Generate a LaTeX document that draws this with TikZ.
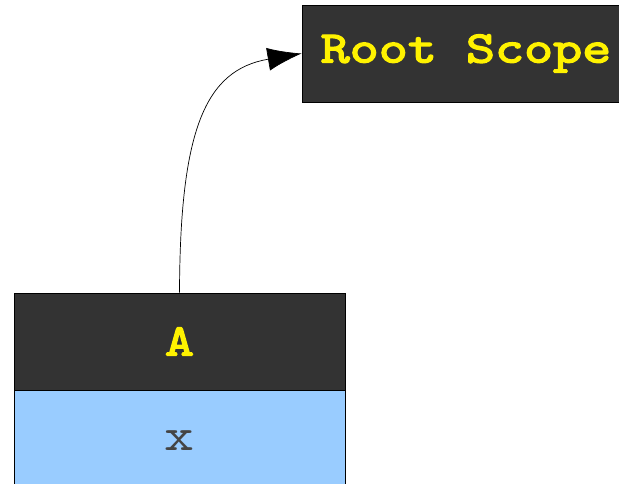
\documentclass[tikz,border=0pt]{standalone}
\usepackage{fontspec}
\newfontfamily\courfont{lmmono10-regular.otf}[FakeStretch=1.24]
\newfontfamily\courbold{lmmono10-regular.otf}[FakeStretch=1.23, FakeBold=3.2]
\usetikzlibrary{arrows.meta}
\definecolor{boxdark}{HTML}{333333}
\definecolor{boxblue}{HTML}{99CCFF}
\definecolor{txtgray}{HTML}{444444}
\begin{document}
\begin{tikzpicture}[x=1pt,y=-1pt,
  hdr/.style={draw=black, line width=0.8pt, fill=boxdark, text=yellow, inner sep=0pt,
    font=\fontsize{45}{45}\selectfont\courbold},
  fld/.style={draw=black, line width=0.8pt, fill=boxblue, text=txtgray, inner sep=0pt,
    font=\fontsize{46}{46}\selectfont\courfont},
  conn/.style={line width=0.7pt, -{Latex[length=34pt,width=23pt]}}]
\useasboundingbox (0,0) rectangle (619,484);
\node[hdr, minimum width=328pt, minimum height=97pt] (root) at (466,53.5) {Root Scope};
\node[hdr, minimum width=331pt, minimum height=97pt] (a) at (179.5,341.5) {A};
\node[fld, minimum width=331pt, minimum height=100pt, anchor=north] (x) at (a.south) {x};
\draw[conn] (a.north) .. controls (180,130) and (205,70) .. (root.west);
\end{tikzpicture}
\end{document}
